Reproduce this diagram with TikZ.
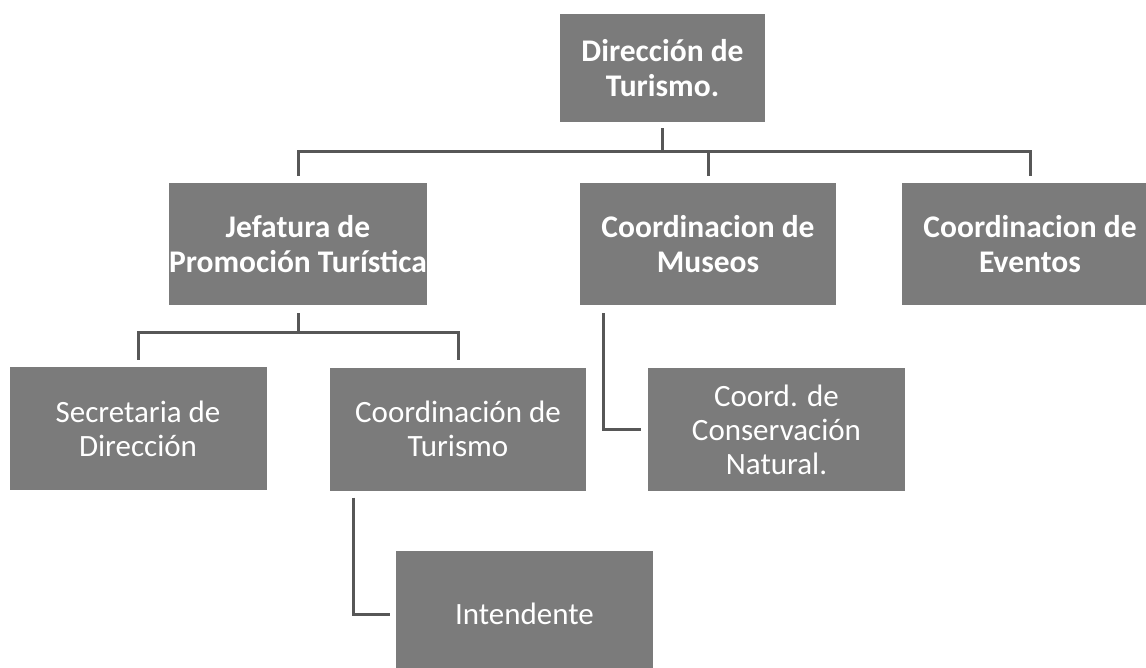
\documentclass[tikz,border=0pt]{standalone}
\usepackage{fontspec}
\setmainfont{Carlito}
\definecolor{boxgray}{HTML}{7B7B7B}
\definecolor{linegray}{HTML}{575757}
\tikzset{
  unit/.style={draw=none, fill=boxgray, text=white, align=center,
    inner sep=0pt, font=\fontsize{31.5}{35}\selectfont\bfseries},
  subunit/.style={unit, font=\fontsize{31}{34}\selectfont},
  link/.style={draw=linegray, line width=3pt}
}

\begin{document}
\begin{tikzpicture}[x=1pt, y=-1pt]
  %%%%% FRAME %%%%%
  \useasboundingbox (0,0) rectangle (1146,668);
  \clip (0,0) rectangle (1146,668);

  %%%%% BOXES %%%%%
  \node[unit, minimum width=205pt, minimum height=108pt] (dir) at (662.5, 68) {Dirección de\\Turismo.};

  \node[unit, minimum width=258pt, minimum height=122pt] (jef) at (298, 244) {Jefatura de\\Promoción Turística};
  \node[unit, minimum width=256pt, minimum height=122pt] (mus) at (708, 244) {Coordinacion de\\Museos};
  \node[unit, minimum width=256pt, minimum height=122pt] (eve) at (1030, 244) {Coordinacion de\\Eventos};

  \node[subunit, minimum width=257pt, minimum height=123pt] (sec) at (138, 428.5) {Secretaria de\\Dirección};
  \node[subunit, minimum width=256pt, minimum height=123pt] (tur) at (458, 429) {Coordinación de\\Turismo};
  \node[subunit, minimum width=257pt, minimum height=123pt] (con) at (776.5, 429.5) {Coord. de\\Conservación\\Natural.};

  \node[subunit, minimum width=257pt, minimum height=126pt] (int) at (524.5, 614) {Intendente};

  %%%%% LINKS %%%%%
  \coordinate (busA) at (662.5, 152);
  \draw[link, shorten <=6pt] (dir.south) -- (busA);
  \draw[link, shorten >=7pt] (busA) -| (jef.north);
  \draw[link, shorten >=7pt] (busA) -| (mus.north);
  \draw[link, shorten >=7pt] (busA) -| (eve.north);

  \coordinate (busB) at (298, 333);
  \draw[link, shorten <=8pt] (jef.south) -- (busB);
  \draw[link, shorten >=7pt] (busB) -| (sec.north);
  \draw[link, shorten >=7pt] (busB) -| (tur.north);

  \draw[link, shorten <=8pt, shorten >=7pt] ([xshift=-105pt]mus.south) |- (con.west);
  \draw[link, shorten <=7pt, shorten >=6pt] ([xshift=-105pt]tur.south) |- (int.west);
\end{tikzpicture}
\end{document}
